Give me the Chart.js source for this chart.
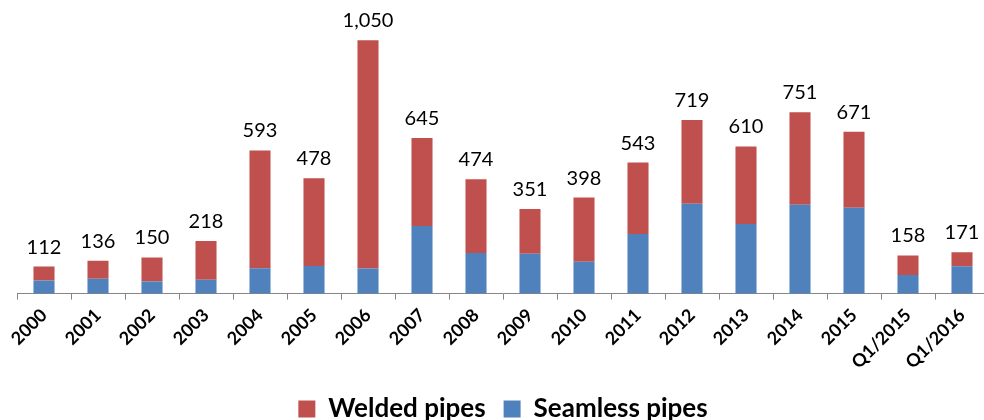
<!DOCTYPE html>
<html>
<head>
<meta charset="utf-8">
<script src="https://cdn.jsdelivr.net/npm/chart.js@4.4.1/dist/chart.umd.min.js"></script>
<style>
  html, body { margin: 0; padding: 0; background: #fff; overflow: hidden; }
  #wrap { width: 1018px; height: 432px; position: relative; }
</style>
</head>
<body>
<div id="wrap"><canvas id="myChart"></canvas></div>
<script>
// categories and values (thousand tonnes)
const years = ['2000', '2001', '2002', '2003', '2004', '2005', '2006', '2007', '2008',
    '2009', '2010', '2011', '2012', '2013', '2014', '2015', 'Q1/2015', 'Q1/2016'];
const totals = [112, 136, 150, 218, 593, 478, 1050, 645, 474, 351, 398, 543, 719, 610, 751, 671, 158, 171];
const seamless = [54, 62, 50, 57, 105, 114, 104, 280, 168, 165, 132, 247, 372, 288, 368, 356, 77, 113];
const welded = totals.map((t, i) => t - seamless[i]);

// setup
const data = {
    labels: years,
    datasets: [{
            label: 'Seamless pipes',
            data: seamless,
            backgroundColor: '#4F81BD'
        },
        {
            label: 'Welded pipes',
            data: welded,
            backgroundColor: '#C0504D'
        }
    ]
};

// totals written above each stack
const totalLabels = {
    id: 'totalLabels',
    afterDatasetsDraw(chart) {
        const ctx = chart.ctx;
        const top = chart.getDatasetMeta(chart.data.datasets.length - 1).data;
        ctx.save();
        ctx.font = '20px Lato';
        ctx.fillStyle = '#000';
        ctx.textAlign = 'center';
        ctx.textBaseline = 'alphabetic';
        top.forEach((bar, i) => {
            ctx.fillText(totals[i].toLocaleString('en-US'), bar.x, bar.y - 13);
        });
        ctx.restore();
    }
};

// config
const config = {
    type: 'bar',
    data,
    plugins: [totalLabels],
    options: {
        responsive: true,
        maintainAspectRatio: false,
        animation: false,
        layout: {
            padding: { left: 17, right: 29, top: 4, bottom: 0 }
        },
        datasets: {
            bar: { categoryPercentage: 0.39, barPercentage: 1 }
        },
        plugins: {
            tooltip: { enabled: false },
            legend: {
                position: 'bottom',
                reverse: true,
                labels: {
                    boxWidth: 17,
                    boxHeight: 17,
                    padding: 18,
                    color: '#000',
                    font: { family: 'Lato', size: 26, weight: 'bold' }
                }
            }
        },
        scales: {
            x: {
                stacked: true,
                grid: {
                    drawOnChartArea: false,
                    drawTicks: true,
                    tickLength: 6,
                    color: '#868686'
                },
                border: { color: '#868686', width: 1 },
                ticks: {
                    minRotation: 45,
                    maxRotation: 45,
                    padding: 5,
                    color: '#000',
                    font: { family: 'Lato', size: 18, weight: 'bold' }
                }
            },
            y: {
                stacked: true,
                display: false,
                min: 0,
                max: 1200
            }
        }
    }
};

// render init block
const myChart = new Chart(
    document.getElementById('myChart'),
    config
);
</script>
</body>
</html>
